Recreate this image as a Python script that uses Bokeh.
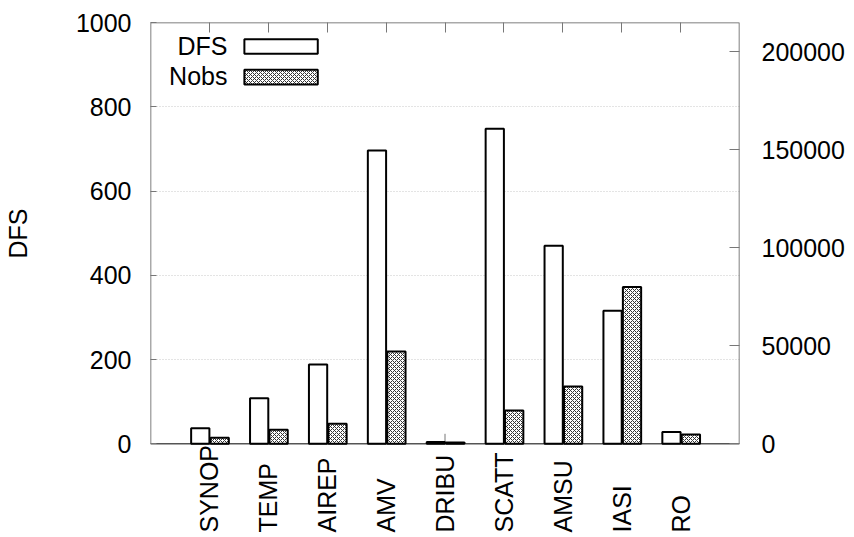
import numpy as np
from bokeh.plotting import figure
from bokeh.models import (Range1d, LinearAxis, FixedTicker, ColumnDataSource,
                          Label, BoxAnnotation, NumeralTickFormatter, Title)
from bokeh.core.properties import value
from bokeh.embed import file_html
from bokeh.resources import INLINE

categories = ["SYNOP", "TEMP", "AIREP", "AMV", "DRIBU", "SCATT", "AMSU", "IASI", "RO"]
dfs = [37, 108, 188, 696, 4, 748, 470, 316, 28]
nobs = [3100, 7200, 10200, 47100, 700, 17000, 29200, 80000, 4800]
series = ["DFS", "Nobs"]
dfs_ticks = [0, 200, 400, 600, 800, 1000]
nobs_ticks = [0, 50000, 100000, 150000, 200000]

FONT = "Liberation Sans"
FS = "25px"

DFS_MAX = 1000
NOBS_MAX = 215000
# the frame extends below y=0 to hold the vertical category labels
LOW = -222.4          # in DFS units
PX = 0.4213           # pixels per DFS unit

xpos = np.arange(1, len(categories) + 1)

p = figure(width=854, height=537, output_backend="svg", toolbar_location=None,
           x_range=Range1d(0, 10), y_range=Range1d(LOW, DFS_MAX),
           x_axis_location=None,
           min_border_left=146, min_border_right=115, min_border_top=22,
           min_border_bottom=0)
p.extra_y_ranges = {"nobs": Range1d(LOW * NOBS_MAX / DFS_MAX, NOBS_MAX)}
p.background_fill_color = "white"
p.border_fill_color = "white"
p.outline_line_color = None

src = ColumnDataSource(dict(x_dfs=xpos - 0.155, x_nobs=xpos + 0.175, dfs=dfs, nobs=nobs,
                            xt=xpos))

# grid
p.xgrid.visible = False
p.ygrid.ticker = FixedTicker(ticks=dfs_ticks)
p.ygrid.grid_line_color = "#c8c8c8"
p.ygrid.grid_line_dash = "1 2"
p.ygrid.grid_line_width = 1

# bottom x ticks (pointing up into the plot)
p.segment(x0="xt", y0=0, x1="xt", y1=10 / PX, source=src, line_color="#777777",
          line_width=1)

p.vbar(x="x_dfs", top="dfs", bottom=0, width=0.31, source=src,
       fill_color="white", line_color="black", line_width=2)
p.vbar(x="x_nobs", top="nobs", bottom=0, width=0.31, source=src, y_range_name="nobs",
       fill_color="white", hatch_pattern="x", hatch_scale=4, hatch_color="#333333",
       hatch_weight=1, line_color="black", line_width=2)

# plot box
p.add_layout(BoxAnnotation(left=0, right=10, bottom=0, top=DFS_MAX,
                           fill_alpha=0, line_color="#555555", line_width=1.5,
                           line_alpha=1, level="underlay"))

# left axis (its own axis label is only a spacer, not drawn)
ya = p.yaxis[0]
ya.ticker = FixedTicker(ticks=dfs_ticks)
ya.axis_line_color = None
ya.major_tick_in = 6
ya.major_tick_out = 0
ya.major_tick_line_color = "#777777"
ya.minor_tick_line_color = None
ya.major_label_standoff = 19
ya.major_label_text_font = FONT
ya.major_label_text_font_size = FS
ya.major_label_text_color = "black"
ya.axis_label = series[0]
ya.axis_label_text_font = FONT
ya.axis_label_text_font_size = FS
ya.axis_label_text_font_style = "normal"
ya.axis_label_text_color = None
ya.axis_label_standoff = 8

# y axis title, centred on the 0..1000 span
p.add_layout(Title(text=series[0], align="right", offset=186, standoff=3,
                   text_font=FONT, text_font_size=FS, text_font_style="normal",
                   text_color="black"), "left")

# right axis
ra = LinearAxis(y_range_name="nobs", ticker=FixedTicker(ticks=nobs_ticks),
                formatter=NumeralTickFormatter(format="0"))
ra.axis_line_color = None
ra.major_tick_in = 10
ra.major_tick_out = 0
ra.major_tick_line_color = "#777777"
ra.minor_tick_line_color = None
ra.major_label_standoff = 22
ra.major_label_text_font = FONT
ra.major_label_text_font_size = FS
ra.major_label_text_color = "black"
p.add_layout(ra, "right")

# top axis (mirror ticks)
ta = LinearAxis(ticker=FixedTicker(ticks=list(xpos)))
ta.axis_line_color = None
ta.major_tick_in = 10
ta.major_tick_out = 0
ta.major_tick_line_color = "#777777"
ta.minor_tick_line_color = None
ta.major_label_text_color = None
ta.major_label_text_font_size = "0px"
ta.major_label_standoff = 0
p.add_layout(ta, "above")

# category labels (vertical, bottom-aligned)
lsrc = ColumnDataSource(dict(x=xpos, name=categories))
p.text(x="x", y=-210.5, text="name", source=lsrc, angle=np.pi / 2,
       text_align="left", text_baseline="middle",
       text_font=value(FONT), text_font_size=value(FS), text_color="black")

# legend (text left of sample)
p.add_layout(Label(x=1.307, y=945, text=series[0], text_align="right",
                   text_baseline="middle", text_font=FONT, text_font_size=FS,
                   text_color="black"))
p.add_layout(Label(x=1.307, y=874, text=series[1], text_align="right",
                   text_baseline="middle", text_font=FONT, text_font_size=FS,
                   text_color="black"))
p.add_layout(BoxAnnotation(left=1.594, right=2.84, bottom=926, top=960,
                           fill_color="white", fill_alpha=1, line_color="black",
                           line_width=2, line_alpha=1))
p.add_layout(BoxAnnotation(left=1.594, right=2.84, bottom=853, top=888,
                           fill_color="white", fill_alpha=1, line_color="black",
                           line_width=2, line_alpha=1, hatch_pattern="x",
                           hatch_scale=4, hatch_color="#333333", hatch_weight=1))

open("out.html", "w").write(file_html(p, INLINE))
